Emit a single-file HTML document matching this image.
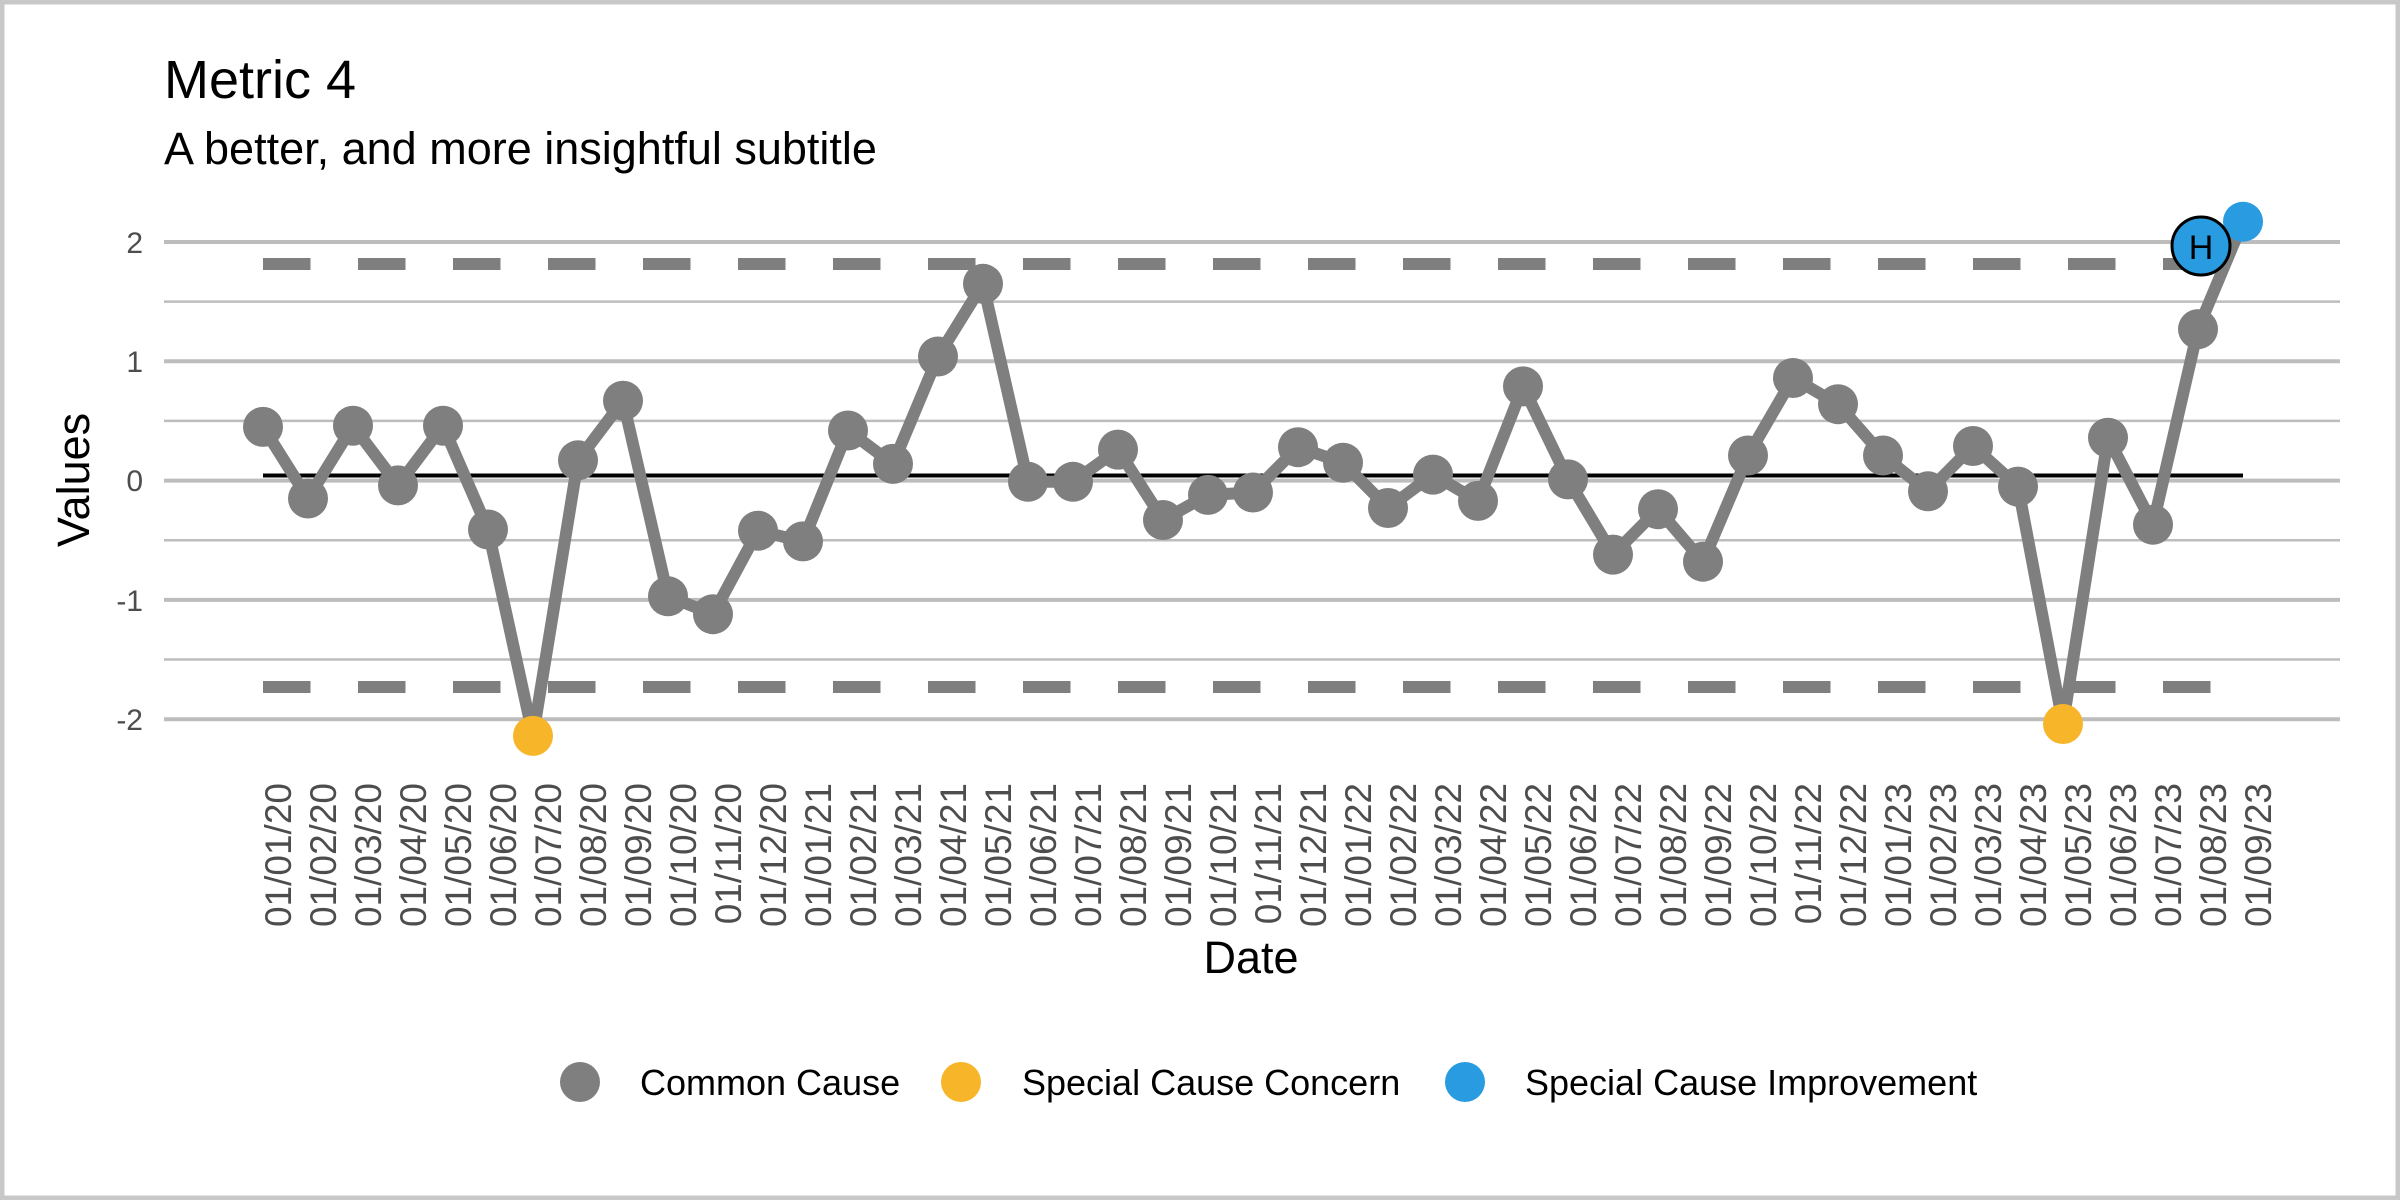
<!DOCTYPE html>
<html><head><meta charset="utf-8"><style>
html,body{margin:0;padding:0;background:#fff}
svg{display:block;font-family:"Liberation Sans",Arial,sans-serif}
</style></head><body>
<svg width="2400" height="1200" viewBox="0 0 2400 1200" xmlns="http://www.w3.org/2000/svg">
<rect x="2" y="2" width="2396" height="1196" fill="#fff" stroke="#c8c8c8" stroke-width="5"/>
<text x="164" y="98" font-size="54" fill="#000">Metric 4</text>
<text x="164" y="164" font-size="45" fill="#000">A better, and more insightful subtitle</text>
<!-- grid -->
<g stroke="#bdbdbd">
<line x1="164" x2="2340" y1="242" y2="242" stroke-width="4"/>
<line x1="164" x2="2340" y1="361.3" y2="361.3" stroke-width="4"/>
<line x1="164" x2="2340" y1="480.6" y2="480.6" stroke-width="4"/>
<line x1="164" x2="2340" y1="599.9" y2="599.9" stroke-width="4"/>
<line x1="164" x2="2340" y1="719.2" y2="719.2" stroke-width="4"/>
<line x1="164" x2="2340" y1="301.6" y2="301.6" stroke-width="2.5"/>
<line x1="164" x2="2340" y1="420.9" y2="420.9" stroke-width="2.5"/>
<line x1="164" x2="2340" y1="540.2" y2="540.2" stroke-width="2.5"/>
<line x1="164" x2="2340" y1="659.5" y2="659.5" stroke-width="2.5"/>
</g>
<g fill="#4d4d4d" font-size="30" text-anchor="end">
<text x="143" y="253">2</text>
<text x="143" y="372">1</text>
<text x="143" y="491">0</text>
<text x="143" y="611">-1</text>
<text x="143" y="730">-2</text>
</g>
<text transform="translate(89,480) rotate(-90)" font-size="45" text-anchor="middle">Values</text>
<!-- limits -->
<line x1="263" x2="2243" y1="264" y2="264" stroke="#7f7f7f" stroke-width="12" stroke-dasharray="47.5 47.5"/>
<line x1="263" x2="2243" y1="687" y2="687" stroke="#7f7f7f" stroke-width="12" stroke-dasharray="47.5 47.5"/>
<line x1="263" x2="2243" y1="475.5" y2="475.5" stroke="#000" stroke-width="4"/>
<polyline fill="none" stroke="#7f7f7f" stroke-width="12" stroke-linejoin="round" points="263,426.9 308,498.5 353,425.7 398,485.4 443,425.7 488,529.5 533,735.9 578,460.3 623,400.7 668,596.3 713,614.2 758,530.7 803,541.4 848,430.5 893,463.9 938,356.5 983,283.8 1028,481.8 1073,481.8 1118,449.6 1163,520 1208,494.9 1253,492.5 1298,447.2 1343,462.7 1388,508 1433,474.6 1478,500.9 1523,386.4 1568,479.4 1613,554.6 1658,509.2 1703,561.7 1748,455.5 1793,378 1838,404.2 1883,455.5 1928,491.3 1973,446 2018,486.6 2063,724 2108,437.7 2153,524.7 2198,329.1 2243,221.7"/>
<g fill="#7f7f7f">
<circle cx="263" cy="426.9" r="20"/><circle cx="308" cy="498.5" r="20"/><circle cx="353" cy="425.7" r="20"/><circle cx="398" cy="485.4" r="20"/><circle cx="443" cy="425.7" r="20"/><circle cx="488" cy="529.5" r="20"/><circle cx="578" cy="460.3" r="20"/><circle cx="623" cy="400.7" r="20"/><circle cx="668" cy="596.3" r="20"/><circle cx="713" cy="614.2" r="20"/><circle cx="758" cy="530.7" r="20"/><circle cx="803" cy="541.4" r="20"/><circle cx="848" cy="430.5" r="20"/><circle cx="893" cy="463.9" r="20"/><circle cx="938" cy="356.5" r="20"/><circle cx="983" cy="283.8" r="20"/><circle cx="1028" cy="481.8" r="20"/><circle cx="1073" cy="481.8" r="20"/><circle cx="1118" cy="449.6" r="20"/><circle cx="1163" cy="520" r="20"/><circle cx="1208" cy="494.9" r="20"/><circle cx="1253" cy="492.5" r="20"/><circle cx="1298" cy="447.2" r="20"/><circle cx="1343" cy="462.7" r="20"/><circle cx="1388" cy="508" r="20"/><circle cx="1433" cy="474.6" r="20"/><circle cx="1478" cy="500.9" r="20"/><circle cx="1523" cy="386.4" r="20"/><circle cx="1568" cy="479.4" r="20"/><circle cx="1613" cy="554.6" r="20"/><circle cx="1658" cy="509.2" r="20"/><circle cx="1703" cy="561.7" r="20"/><circle cx="1748" cy="455.5" r="20"/><circle cx="1793" cy="378" r="20"/><circle cx="1838" cy="404.2" r="20"/><circle cx="1883" cy="455.5" r="20"/><circle cx="1928" cy="491.3" r="20"/><circle cx="1973" cy="446" r="20"/><circle cx="2018" cy="486.6" r="20"/><circle cx="2108" cy="437.7" r="20"/><circle cx="2153" cy="524.7" r="20"/><circle cx="2198" cy="329.1" r="20"/>
</g>
<circle cx="533" cy="735.9" r="20" fill="#f7b52a"/>
<circle cx="2063" cy="724" r="20" fill="#f7b52a"/>
<circle cx="2243" cy="221.7" r="20" fill="#299be0"/>
<circle cx="2201" cy="246" r="29" fill="#299be0" stroke="#000" stroke-width="3"/>
<text x="2201" y="259" font-size="34" text-anchor="middle" fill="#000">H</text>
<!-- x labels -->
<g fill="#4d4d4d" font-size="37" text-anchor="end">
<text transform="translate(291,783) rotate(-90)">01/01/20</text>
<text transform="translate(336,783) rotate(-90)">01/02/20</text>
<text transform="translate(381,783) rotate(-90)">01/03/20</text>
<text transform="translate(426,783) rotate(-90)">01/04/20</text>
<text transform="translate(471,783) rotate(-90)">01/05/20</text>
<text transform="translate(516,783) rotate(-90)">01/06/20</text>
<text transform="translate(561,783) rotate(-90)">01/07/20</text>
<text transform="translate(606,783) rotate(-90)">01/08/20</text>
<text transform="translate(651,783) rotate(-90)">01/09/20</text>
<text transform="translate(696,783) rotate(-90)">01/10/20</text>
<text transform="translate(741,783) rotate(-90)">01/11/20</text>
<text transform="translate(786,783) rotate(-90)">01/12/20</text>
<text transform="translate(831,783) rotate(-90)">01/01/21</text>
<text transform="translate(876,783) rotate(-90)">01/02/21</text>
<text transform="translate(921,783) rotate(-90)">01/03/21</text>
<text transform="translate(966,783) rotate(-90)">01/04/21</text>
<text transform="translate(1011,783) rotate(-90)">01/05/21</text>
<text transform="translate(1056,783) rotate(-90)">01/06/21</text>
<text transform="translate(1101,783) rotate(-90)">01/07/21</text>
<text transform="translate(1146,783) rotate(-90)">01/08/21</text>
<text transform="translate(1191,783) rotate(-90)">01/09/21</text>
<text transform="translate(1236,783) rotate(-90)">01/10/21</text>
<text transform="translate(1281,783) rotate(-90)">01/11/21</text>
<text transform="translate(1326,783) rotate(-90)">01/12/21</text>
<text transform="translate(1371,783) rotate(-90)">01/01/22</text>
<text transform="translate(1416,783) rotate(-90)">01/02/22</text>
<text transform="translate(1461,783) rotate(-90)">01/03/22</text>
<text transform="translate(1506,783) rotate(-90)">01/04/22</text>
<text transform="translate(1551,783) rotate(-90)">01/05/22</text>
<text transform="translate(1596,783) rotate(-90)">01/06/22</text>
<text transform="translate(1641,783) rotate(-90)">01/07/22</text>
<text transform="translate(1686,783) rotate(-90)">01/08/22</text>
<text transform="translate(1731,783) rotate(-90)">01/09/22</text>
<text transform="translate(1776,783) rotate(-90)">01/10/22</text>
<text transform="translate(1821,783) rotate(-90)">01/11/22</text>
<text transform="translate(1866,783) rotate(-90)">01/12/22</text>
<text transform="translate(1911,783) rotate(-90)">01/01/23</text>
<text transform="translate(1956,783) rotate(-90)">01/02/23</text>
<text transform="translate(2001,783) rotate(-90)">01/03/23</text>
<text transform="translate(2046,783) rotate(-90)">01/04/23</text>
<text transform="translate(2091,783) rotate(-90)">01/05/23</text>
<text transform="translate(2136,783) rotate(-90)">01/06/23</text>
<text transform="translate(2181,783) rotate(-90)">01/07/23</text>
<text transform="translate(2226,783) rotate(-90)">01/08/23</text>
<text transform="translate(2271,783) rotate(-90)">01/09/23</text>
</g>
<text x="1251" y="973" font-size="45" text-anchor="middle" fill="#000">Date</text>
<!-- legend -->
<circle cx="580" cy="1082" r="20" fill="#7f7f7f"/>
<text x="640" y="1095" font-size="36" fill="#000">Common Cause</text>
<circle cx="961" cy="1082" r="20" fill="#f7b52a"/>
<text x="1022" y="1095" font-size="36" fill="#000">Special Cause Concern</text>
<circle cx="1465" cy="1082" r="20" fill="#299be0"/>
<text x="1525" y="1095" font-size="36" fill="#000">Special Cause Improvement</text>
</svg>
</body></html>
